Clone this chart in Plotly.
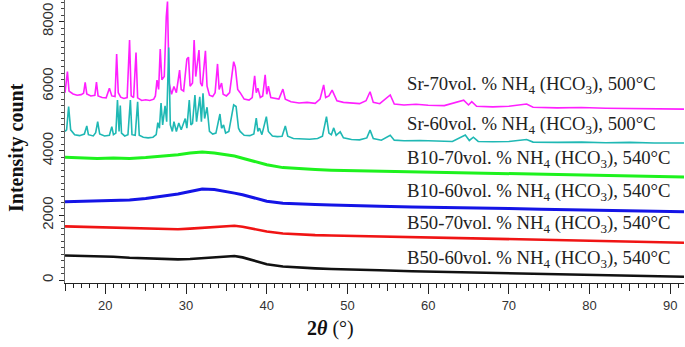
import plotly.graph_objects as go

# ---- data (2theta in degrees, intensity in counts) ----
sr70_x = [15.0, 15.3, 15.5, 16.0, 16.5, 17.0, 17.3, 17.5, 17.7, 18.2, 18.7, 18.9, 19.1, 19.6, 20.1, 20.5, 20.8,
          21.2, 21.4, 21.6, 21.9, 22.3, 22.7, 23.0, 23.2, 23.5, 23.8, 24.0, 24.5, 25.0, 25.5, 26.0, 26.2, 26.4,
          26.6, 26.8, 27.0, 27.3, 27.55, 27.7, 27.9, 28.2, 28.5, 28.8, 29.2, 29.4, 29.7, 30.1, 30.3, 30.5,
          30.8, 31.0, 31.2, 31.6, 31.8, 32.0, 32.4, 32.6, 32.9, 33.3, 33.6, 33.9, 34.1, 34.4, 34.6, 35.0,
          35.4, 35.9, 36.1, 36.4, 36.7, 37.2, 37.8, 38.2, 38.5, 38.7, 38.9, 39.2, 39.5, 39.8, 40.0, 40.2,
          40.5, 41.0, 41.5, 42.0, 42.3, 43.0, 44.0, 45.0, 46.0, 46.6, 47.05, 47.3, 47.7, 48.1, 48.3, 48.7,
          49.5, 50.5, 51.5, 52.3, 52.8, 53.2, 54.0, 55.3, 55.8, 57.0, 58.5, 60.0, 62.0, 64.4, 65.0, 65.4,
          66.0, 68.0, 70.0, 72.2, 73.0, 76.0, 79.0, 82.0, 85.0, 88.0, 91.7]
sr70_y = [5800, 6450, 5850, 5760, 5720, 5740, 5780, 6120, 5760, 5700, 5720, 6130, 5700, 5650, 5640, 5940, 5700,
          5680, 7000, 5800, 5660, 5620, 5650, 7430, 5700, 5650, 7040, 5640, 5560, 5580, 5560, 5600, 5700, 6190,
          5900, 7150, 6200, 6300, 8150, 8620, 6100, 5750, 5990, 5800, 6500, 5900, 5850, 6840, 6900, 6000,
          6100, 7430, 6300, 7120, 6100, 6000, 7100, 6000, 5720, 5680, 5800, 6690, 5900, 6100, 5750, 5700,
          5800, 6760, 6600, 5900, 5800, 5600, 5570, 5650, 6320, 5800, 5940, 5650, 5700, 6350, 5750, 6000,
          5650, 5630, 5600, 5910, 5600, 5520, 5480, 5500, 5470, 5600, 6040, 5650, 5700, 5880, 5750, 5550,
          5500, 5480, 5460, 5550, 5830, 5500, 5460, 5730, 5450, 5420, 5440, 5410, 5400, 5570, 5420, 5520,
          5380, 5360, 5380, 5450, 5350, 5330, 5340, 5320, 5310, 5300, 5290]

sr60_x = [15.0, 15.2, 15.45, 15.7, 16.2, 16.8, 17.4, 17.7, 17.9, 18.5, 18.8, 19.05, 19.3, 19.9, 20.5, 20.8, 21.0,
          21.3, 21.5, 21.7, 21.85, 22.0, 22.4, 22.8, 23.1, 23.3, 23.7, 24.0, 24.2, 24.7, 25.3, 25.9, 26.3,
          26.5, 26.7, 26.9, 27.1, 27.4, 27.6, 27.85, 28.05, 28.3, 28.5, 28.8, 29.1, 29.4, 29.9, 30.1, 30.4,
          30.6, 30.8, 31.1, 31.3, 31.7, 31.9, 32.1, 32.3, 32.6, 32.9, 33.3, 33.7, 34.2, 34.4, 34.65, 34.9,
          35.3, 35.9, 36.2, 36.5, 36.7, 37.2, 37.9, 38.4, 38.7, 38.9, 39.1, 39.4, 39.95, 40.2, 40.7, 41.3,
          41.9, 42.3, 42.6, 43.3, 44.3, 45.3, 46.3, 46.9, 47.4, 47.7, 48.0, 48.3, 48.6, 49.1, 49.5, 50.5,
          51.5, 52.4, 52.8, 53.2, 54.2, 55.3, 55.8, 57.0, 59.0, 61.0, 63.0, 64.6, 65.1, 65.6, 66.2, 68.0,
          70.0, 72.2, 73.0, 76.0, 79.0, 82.0, 85.0, 88.0, 91.7]
sr60_y = [4600, 4650, 5370, 4650, 4500, 4470, 4520, 4770, 4500, 4460, 4560, 4900, 4520, 4460, 4480, 4750, 4500,
          4550, 5570, 4600, 5400, 4550, 4460, 4500, 5570, 4500, 4480, 5520, 4480, 4420, 4400, 4420, 4500,
          4870, 4700, 5480, 4800, 5390, 4900, 7200, 4800, 4600, 4900, 4600, 4860, 4650, 5000, 4700, 5570,
          4800, 4850, 5730, 4900, 5670, 4900, 5780, 5000, 5350, 4600, 4520, 4550, 5140, 4700, 4800, 4550,
          4600, 5420, 5370, 4700, 4600, 4480, 4470, 4520, 5010, 4600, 4700, 4500, 5060, 4600, 4460, 4440,
          4450, 4770, 4450, 4380, 4370, 4360, 4380, 4450, 5060, 4550, 4500, 4710, 4480, 4590, 4400, 4350,
          4340, 4400, 4640, 4380, 4330, 4480, 4330, 4310, 4320, 4300, 4290, 4490, 4320, 4420, 4290, 4280,
          4290, 4350, 4270, 4260, 4270, 4250, 4260, 4240, 4240]

amorph_x = [15.0, 17.0, 19.0, 21.0, 23.0, 25.0, 27.0, 29.0, 30.5, 32.0, 33.5, 35.0, 36.0, 37.0, 38.5, 40.0,
            42.0, 44.0, 46.0, 48.0, 50.0, 54.0, 58.0, 62.0, 66.0, 70.0, 74.0, 78.0, 82.0, 86.0, 91.7]
b10_70_y = [3800, 3770, 3760, 3780, 3760, 3790, 3830, 3880, 3930, 3960, 3930, 3880, 3840, 3770, 3680, 3570,
            3480, 3440, 3420, 3400, 3390, 3370, 3350, 3330, 3310, 3290, 3270, 3250, 3230, 3210, 3190]
b10_60_y = [2420, 2430, 2450, 2460, 2480, 2520, 2580, 2660, 2740, 2820, 2800, 2720, 2690, 2640, 2540, 2440,
            2380, 2350, 2340, 2320, 2300, 2280, 2260, 2250, 2230, 2210, 2190, 2170, 2150, 2130, 2115]
b50_70_y = [1660, 1650, 1640, 1630, 1610, 1590, 1580, 1570, 1590, 1610, 1640, 1670, 1680, 1650, 1580, 1500,
            1440, 1410, 1390, 1380, 1370, 1350, 1330, 1310, 1290, 1270, 1240, 1210, 1190, 1170, 1155]
b50_60_y = [760, 750, 730, 720, 690, 670, 650, 640, 650, 670, 700, 730, 745, 700, 600, 490,
            420, 380, 360, 340, 320, 300, 270, 250, 235, 220, 200, 175, 150, 125, 100]

series_names = ["Sr-70vol. % NH<sub>4</sub> (HCO<sub>3</sub>), 500\u00b0C",
                "Sr-60vol. % NH<sub>4</sub> (HCO<sub>3</sub>), 500\u00b0C",
                "B10-70vol. % NH<sub>4</sub> (HCO<sub>3</sub>), 540\u00b0C",
                "B10-60vol. % NH<sub>4</sub> (HCO<sub>3</sub>), 540\u00b0C",
                "B50-70vol. % NH<sub>4</sub> (HCO<sub>3</sub>), 540\u00b0C",
                "B50-60vol. % NH<sub>4</sub> (HCO<sub>3</sub>), 540\u00b0C"]
series_colors = ["#FF1FFF", "#1FB8B4", "#1EF21E", "#1414E6", "#F01414", "#111111"]
label_y_px = [85, 125, 159, 192, 224, 259]

x_major = [20, 30, 40, 50, 60, 70, 80, 90]
y_major = [0, 2000, 4000, 6000, 8000]

# ---- figure ----
W, H = 685, 347
L, R, T, B = 65, 1, 0, 64
pw, ph = W - L - R, H - T - B

fig = go.Figure()
data = [(sr70_x, sr70_y), (sr60_x, sr60_y), (amorph_x, b10_70_y), (amorph_x, b10_60_y),
        (amorph_x, b50_70_y), (amorph_x, b50_60_y)]
widths = [1.6, 1.6, 3.0, 3.0, 2.6, 2.6]
for i, ((xs, ys), c, w) in enumerate(zip(data, series_colors, widths)):
    fig.add_trace(go.Scatter(x=xs, y=ys, mode="lines", line=dict(color=c, width=w),
                             xaxis="x2" if i == 5 else "x", showlegend=False, hoverinfo="skip"))

xr = [15, 91.7]
yr = [-93, 8670]
fig.update_layout(
    width=W, height=H, margin=dict(l=L, r=R, t=T, b=B),
    plot_bgcolor="white", paper_bgcolor="white",
    xaxis=dict(range=xr, showgrid=False, zeroline=False, showline=True, linecolor="#222", linewidth=1,
               ticks="outside", tick0=15, dtick=5, ticklen=7, tickcolor="#222", showticklabels=False,
               minor=dict(dtick=1, ticks="outside", ticklen=4, tickcolor="#222")),
    xaxis2=dict(range=xr, overlaying="x", anchor="y", side="bottom", matches="x", showgrid=False,
                zeroline=False, showline=False, ticks="outside", tickvals=x_major,
                ticktext=[str(v) for v in x_major], ticklen=10, tickcolor="#222",
                ticklabeloverflow="allow",
                tickfont=dict(family="Liberation Sans Narrow, Liberation Sans, sans-serif", size=13, color="#333")),
    yaxis=dict(range=yr, showgrid=False, zeroline=False, showline=True, linecolor="#666", linewidth=1,
               ticks="outside", tickvals=y_major, ticktext=[str(v) for v in y_major], ticklen=5,
               tickcolor="#222", tickangle=-90, ticklabelstandoff=0, ticklabeloverflow="allow",
               tickfont=dict(family="Liberation Sans Narrow, Liberation Sans, sans-serif", size=15, color="#333"),
               minor=dict(dtick=200, tick0=0, ticks="outside", ticklen=3, tickcolor="#444")),
)

for name, c, ypx in zip(series_names, series_colors, label_y_px):
    fig.add_annotation(xref="paper", yref="paper", x=(405 - L) / pw, y=(ph - ypx) / ph, text=name,
                       showarrow=False, xanchor="left", yanchor="middle",
                       font=dict(family="Liberation Serif, serif", size=18.7, color="#222"))

fig.add_annotation(xref="paper", yref="paper", x=(17 - L) / pw, y=(ph - 148) / ph,
                   text="<b>Intensity count</b>", textangle=-90, showarrow=False,
                   xanchor="center", yanchor="middle",
                   font=dict(family="Liberation Serif, serif", size=20, color="#111"))
fig.add_annotation(xref="paper", yref="paper", x=(330 - L) / pw, y=(ph - 328) / ph,
                   text="<b>2<i>\u03b8</i></b> (\u00b0)", showarrow=False,
                   xanchor="center", yanchor="middle",
                   font=dict(family="Liberation Serif, serif", size=20, color="#111"))

fig.write_html("out.html", config={"displayModeBar": False},
               post_script="document.body.style.margin='0';")
